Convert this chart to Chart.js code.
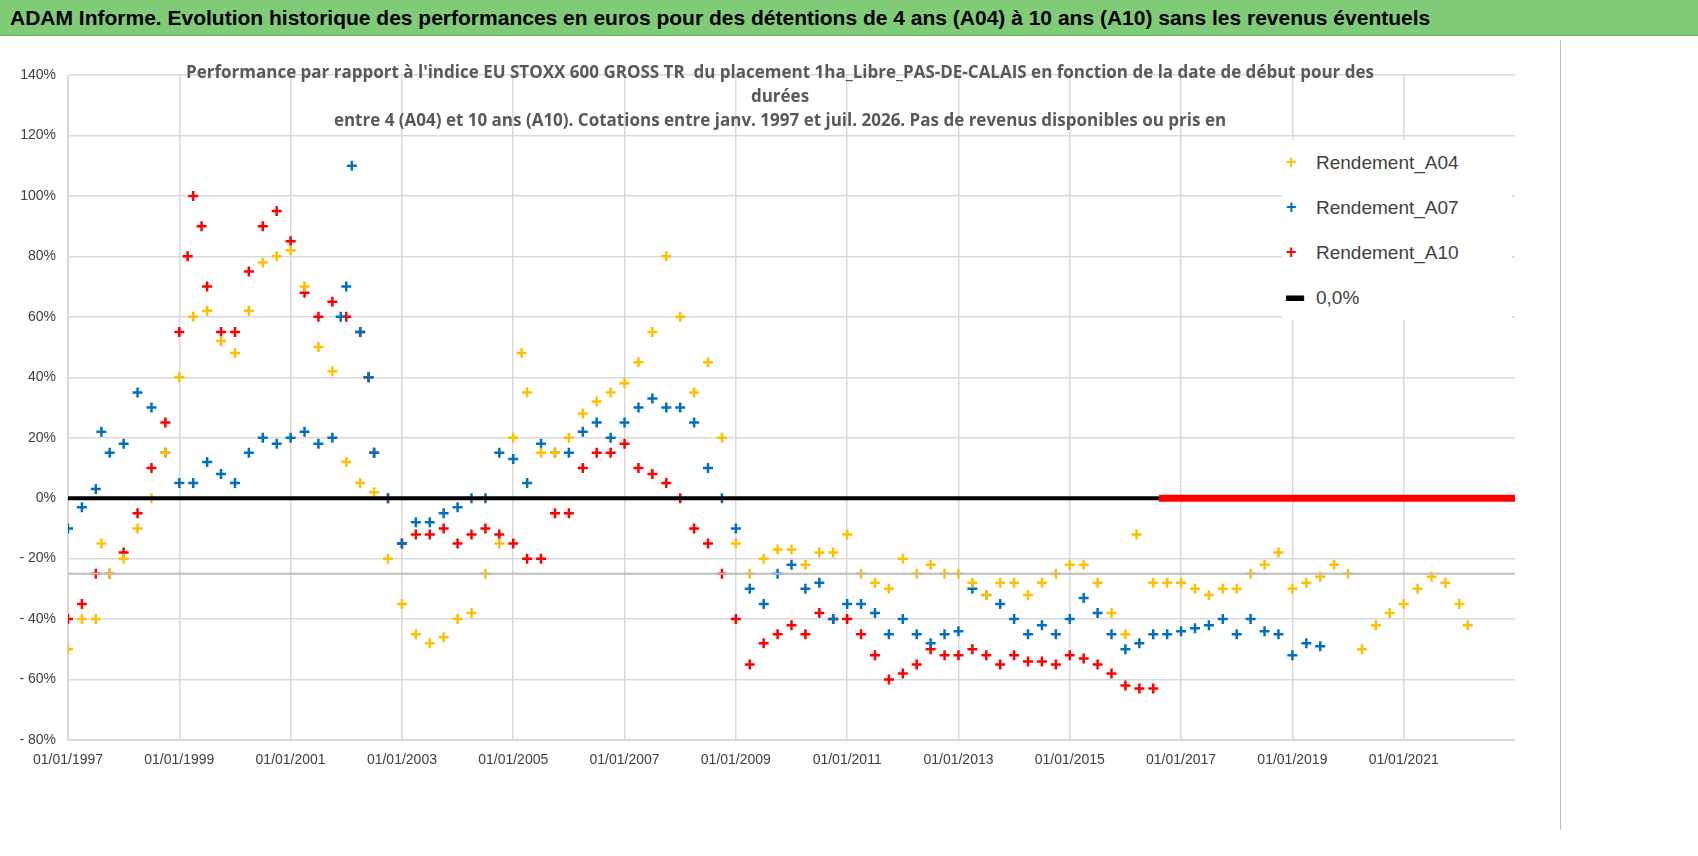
<!DOCTYPE html>
<html>
<head>
<meta charset="utf-8">
<script src="https://cdn.jsdelivr.net/npm/chart.js@4"></script>
<style>
  body { margin: 0; background: #fff; font-family: "Liberation Sans", Arial, sans-serif; }
  #bar { position: absolute; left: 0; top: 0; width: 1698px; height: 36px; background: #7fcb78; border-bottom: 1px solid #6aa964;
         font: bold 21px "Liberation Sans", Arial, sans-serif; line-height: 36px; padding-left: 10px; box-sizing: border-box; color: #000; }
  #wrap { position: absolute; left: 0; top: 38px; width: 1698px; height: 740px; }
  #subtitle { position: absolute; left: 120px; top: 60px; width: 1320px; text-align: center; color: #595959;
              font: bold 17px "Open Sans", Arial, sans-serif; line-height: 24px; }
  #legend { position: absolute; left: 1282px; top: 140px; width: 230px; height: 180px; background: #fff;
            font: 19px "Liberation Sans", Arial, sans-serif; color: #404040; }
  #legend div { height: 45px; line-height: 45px; position: relative; padding-left: 34px; }
  #legend span.m { position: absolute; left: 4px; top: 0; font-weight: bold; font-size: 18px; }
  #frame { position: absolute; left: 1560px; top: 40px; width: 1px; height: 790px; background: #bbb; }
</style>
</head>
<body>
<div id="bar">ADAM Informe. Evolution historique des performances en euros pour des détentions de 4 ans (A04) à 10 ans (A10) sans les revenus éventuels</div>
<div id="wrap"><canvas id="c" width="1698" height="740"></canvas></div>
<div id="subtitle">Performance par rapport à l'indice EU STOXX 600 GROSS TR&nbsp; du placement 1ha_Libre_PAS-DE-CALAIS en fonction de la date de début pour des<br>durées<br>entre 4 (A04) et 10 ans (A10). Cotations entre janv. 1997 et juil. 2026. Pas de revenus disponibles ou pris en</div>
<div id="legend">
  <div><span class="m" style="color:#ffc000">+</span>Rendement_A04</div>
  <div><span class="m" style="color:#0070c0">+</span>Rendement_A07</div>
  <div><span class="m" style="color:#ff0000">+</span>Rendement_A10</div>
  <div><span class="m" style="color:#000;top:-2px">&#9644;</span>0,0%</div>
</div>
<div id="frame"></div>
<script>
// ── Data (year as decimal, return as %) ──────────────────
const yearsA04 = [1997,1997.25,1997.5,1997.6,1997.75,1998,1998.25,1998.5,1998.75,1999,1999.25,1999.5,1999.75,2000,2000.25,2000.5,2000.75,2001,2001.25,2001.5,2001.75,2002,2002.25,2002.5,2002.75,2003,2003.25,2003.5,2003.75,2004,2004.25,2004.5,2004.75,2005,2005.15,2005.25,2005.5,2005.75,2006,2006.25,2006.5,2006.75,2007,2007.25,2007.5,2007.75,2008,2008.25,2008.5,2008.75,2009,2009.25,2009.5,2009.75,2010,2010.25,2010.5,2010.75,2011,2011.25,2011.5,2011.75,2012,2012.25,2012.5,2012.75,2013,2013.25,2013.5,2013.75,2014,2014.25,2014.5,2014.75,2015,2015.25,2015.5,2015.75,2016,2016.2,2016.5,2016.75,2017,2017.25,2017.5,2017.75,2018,2018.25,2018.5,2018.75,2019,2019.25,2019.5,2019.75,2020,2020.25,2020.5,2020.75,2021,2021.25,2021.5,2021.75,2022,2022.15];
const valsA04  = [-50,-40,-40,-15,-25,-20,-10,0,15,40,60,62,52,48,62,78,80,82,70,50,42,12,5,2,-20,-35,-45,-48,-46,-40,-38,-25,-15,20,48,35,15,15,20,28,32,35,38,45,55,80,60,35,45,20,-15,-25,-20,-17,-17,-22,-18,-18,-12,-25,-28,-30,-20,-25,-22,-25,-25,-28,-32,-28,-28,-32,-28,-25,-22,-22,-28,-38,-45,-12,-28,-28,-28,-30,-32,-30,-30,-25,-22,-18,-30,-28,-26,-22,-25,-50,-42,-38,-35,-30,-26,-28,-35,-42];

const yearsA07 = [1997,1997.25,1997.5,1997.6,1997.75,1998,1998.25,1998.5,1998.75,1999,1999.25,1999.5,1999.75,2000,2000.25,2000.5,2000.75,2001,2001.25,2001.5,2001.75,2001.9,2002,2002.1,2002.25,2002.4,2002.5,2002.75,2003,2003.25,2003.5,2003.75,2004,2004.25,2004.5,2004.75,2005,2005.25,2005.5,2005.75,2006,2006.25,2006.5,2006.75,2007,2007.25,2007.5,2007.75,2008,2008.25,2008.5,2008.75,2009,2009.25,2009.5,2009.75,2010,2010.25,2010.5,2010.75,2011,2011.25,2011.5,2011.75,2012,2012.25,2012.5,2012.75,2013,2013.25,2013.5,2013.75,2014,2014.25,2014.5,2014.75,2015,2015.25,2015.5,2015.75,2016,2016.25,2016.5,2016.75,2017,2017.25,2017.5,2017.75,2018,2018.25,2018.5,2018.75,2019,2019.25,2019.5];
const valsA07  = [-10,-3,3,22,15,18,35,30,15,5,5,12,8,5,15,20,18,20,22,18,20,60,70,110,55,40,15,0,-15,-8,-8,-5,-3,0,0,15,13,5,18,15,15,22,25,20,25,30,33,30,30,25,10,0,-10,-30,-35,-25,-22,-30,-28,-40,-35,-35,-38,-45,-40,-45,-48,-45,-44,-30,-32,-35,-40,-45,-42,-45,-40,-33,-38,-45,-50,-48,-45,-45,-44,-43,-42,-40,-45,-40,-44,-45,-52,-48,-49];

const yearsA10 = [1997,1997.25,1997.5,1997.75,1998,1998.25,1998.5,1998.75,1999,1999.15,1999.25,1999.4,1999.5,1999.75,2000,2000.25,2000.5,2000.75,2001,2001.25,2001.5,2001.75,2002,2002.25,2002.4,2002.5,2002.75,2003,2003.25,2003.5,2003.75,2004,2004.25,2004.5,2004.75,2005,2005.25,2005.5,2005.75,2006,2006.25,2006.5,2006.75,2007,2007.25,2007.5,2007.75,2008,2008.25,2008.5,2008.75,2009,2009.25,2009.5,2009.75,2010,2010.25,2010.5,2010.75,2011,2011.25,2011.5,2011.75,2012,2012.25,2012.5,2012.75,2013,2013.25,2013.5,2013.75,2014,2014.25,2014.5,2014.75,2015,2015.25,2015.5,2015.75,2016,2016.25,2016.5];
const valsA10  = [-40,-35,-25,-25,-18,-5,10,25,55,80,100,90,70,55,55,75,90,95,85,68,60,65,60,55,40,15,0,-15,-12,-12,-10,-15,-12,-10,-12,-15,-20,-20,-5,-5,10,15,15,18,10,8,5,0,-10,-15,-25,-40,-55,-48,-45,-42,-45,-38,-40,-40,-45,-52,-60,-58,-55,-50,-52,-52,-50,-52,-55,-52,-54,-54,-55,-52,-53,-55,-58,-62,-63,-63];

// A10 shows 0 after the last available start date
const zeroA10Years = [2016.6, 2023];
const zeroLineYears = [1997, 2023];
const refLine = -25;            // grey reference line
const xTicks = [1997,1999,2001,2003,2005,2007,2009,2011,2013,2015,2017,2019,2021];

const pts = (xs, ys) => xs.map((x, i) => ({ x: x, y: ys[i] / 100 }));

function crossSet(label, xs, ys, color) {
  return {
    label, data: pts(xs, ys), showLine: false,
    pointStyle: 'cross', pointRadius: 5, pointBorderWidth: 2.5,
    borderColor: color, backgroundColor: color
  };
}

new Chart(document.getElementById('c'), {
  type: 'scatter',
  data: {
    datasets: [
      { label: 'ref', data: zeroLineYears.map(x => ({ x, y: refLine / 100 })), showLine: true,
        borderColor: '#bdbdbd', borderWidth: 2, pointRadius: 0 },
      { label: '0,0%', data: [{ x: 1997, y: 0 }, { x: zeroA10Years[0], y: 0 }], showLine: true,
        borderColor: '#000', borderWidth: 4, pointRadius: 0 },
      { label: 'A10 zero', data: zeroA10Years.map(x => ({ x, y: 0 })), showLine: true,
        borderColor: '#ff0000', borderWidth: 7, pointRadius: 0 },
      crossSet('Rendement_A04', yearsA04, valsA04, '#ffc000'),
      crossSet('Rendement_A07', yearsA07, valsA07, '#0070c0'),
      crossSet('Rendement_A10', yearsA10, valsA10, '#ff0000')
    ]
  },
  options: {
    responsive: false, animation: false,
    layout: { padding: { top: 37, right: 183, left: 0, bottom: 0 } },
    plugins: { legend: { display: false }, tooltip: { enabled: false } },
    scales: {
      x: {
        type: 'linear', min: 1997, max: 2023,
        afterBuildTicks: s => { s.ticks = xTicks.map(v => ({ value: v })); },
        afterFit: s => { s.height = 38; },
        grid: { color: '#d9d9d9', lineWidth: 1.5, drawTicks: false },
        border: { color: '#d9d9d9' },
        ticks: { color: '#404040', font: { size: 14, family: 'Liberation Sans' }, padding: 12,
                 maxRotation: 0, callback: v => '01/01/' + v }
      },
      y: {
        min: -0.8, max: 1.4,
        afterFit: s => { s.width = 68; },
        grid: { color: '#d9d9d9', lineWidth: 1.5, drawTicks: false },
        border: { color: '#d9d9d9' },
        ticks: { stepSize: 0.2, color: '#404040', font: { size: 14, family: 'Liberation Sans' }, padding: 12,
                 callback: v => { const p = Math.round(v * 100); return p < 0 ? '- ' + (-p) + '%' : p + '%'; } }
      }
    }
  }
});
</script>
</body>
</html>
